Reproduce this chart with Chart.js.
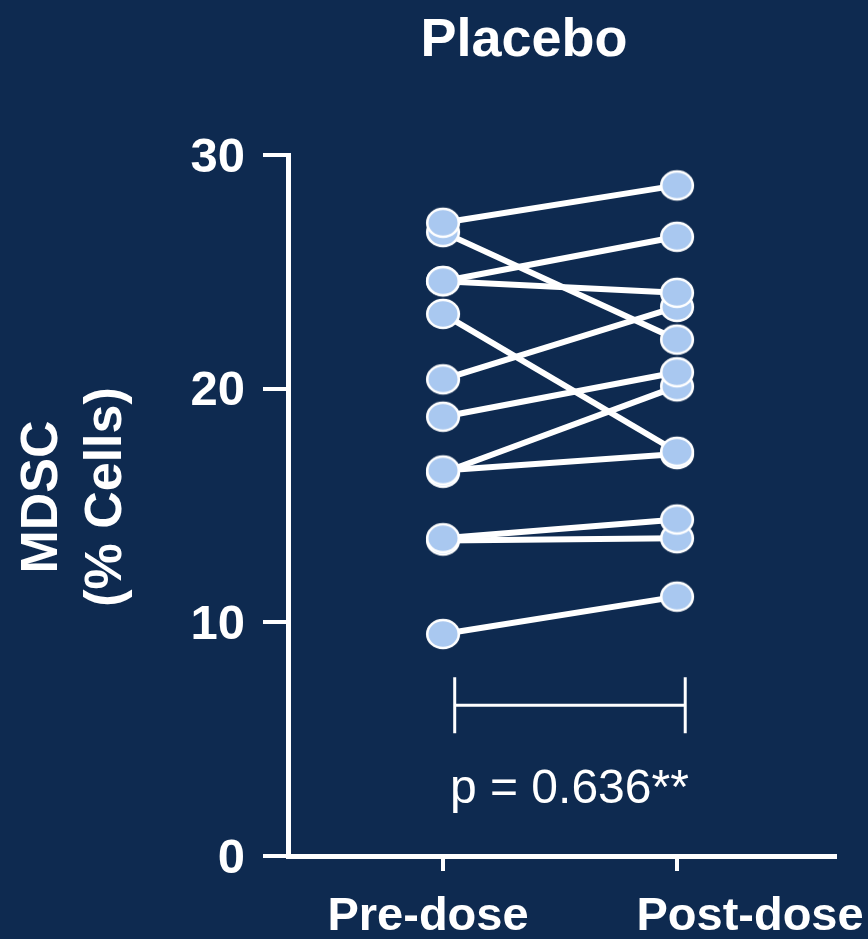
<!DOCTYPE html>
<html>
<head>
<meta charset="utf-8">
<script src="https://cdn.jsdelivr.net/npm/chart.js@4.4.1/dist/chart.umd.min.js"></script>
<style>
  html, body { margin: 0; padding: 0; background: #0e2a50; }
  #wrap { width: 868px; height: 939px; position: relative; }
</style>
</head>
<body>
<div id="wrap"><canvas id="mdscChart"></canvas></div>
<script>
// Data
const chartTitle = 'Placebo';
const yTitle = ['MDSC', '(% Cells)'];
const categories = ['Pre-dose', 'Post-dose'];
const preDose = [27.1, 26.7, 24.6, 24.6, 23.2, 20.4, 18.8, 16.5, 16.4, 13.6, 13.5, 9.5];
const postDose = [28.7, 22.1, 26.5, 24.1, 17.3, 23.5, 20.7, 17.2, 20.1, 14.4, 13.6, 11.1];
const yTicks = [0, 10, 20, 30];
const pText = 'p = 0.636**';

const white = '#ffffff';
const pointFill = '#a9c8f0';
const bg = '#0e2a50';
const font = '"Liberation Sans", Arial, sans-serif';

// slightly flattened dot, like the original
function makeDot() {
  const cv = document.createElement('canvas');
  cv.width = 38; cv.height = 34;
  const c = cv.getContext('2d');
  c.beginPath();
  c.ellipse(19, 17, 15.8, 14, 0, 0, Math.PI * 2);
  c.fillStyle = pointFill;
  c.fill();
  c.lineWidth = 2.6;
  c.strokeStyle = white;
  c.stroke();
  return cv;
}
const dotImg = makeDot();

// one line per subject
const lineSets = preDose.map((v, i) => ({
  type: 'line',
  data: [{ x: 0, y: v }, { x: 1, y: postDose[i] }],
  borderColor: white,
  borderWidth: 6,
  pointRadius: 0,
  order: 2
}));

// all the dots go on top of the lines
const dots = [];
for (let i = preDose.length - 1; i >= 0; i--) dots.push({ x: 0, y: preDose[i] });
for (let i = postDose.length - 1; i >= 0; i--) dots.push({ x: 1, y: postDose[i] });

// background, bracket + p value, title, axis titles
const extras = {
  id: 'extras',
  beforeDraw(chart) {
    const c = chart.ctx;
    c.save();
    c.fillStyle = bg;
    c.fillRect(0, 0, chart.width, chart.height);
    c.restore();
  },
  afterDraw(chart) {
    const c = chart.ctx;
    const xs = chart.scales.x, ys = chart.scales.y;
    c.save();
    c.strokeStyle = white;
    c.lineWidth = 3;
    const x0 = xs.getPixelForValue(0.05), x1 = xs.getPixelForValue(1.035);
    const yMid = ys.getPixelForValue(6.45);
    const yTop = ys.getPixelForValue(7.65), yBot = ys.getPixelForValue(5.25);
    c.beginPath();
    c.moveTo(x0, yTop); c.lineTo(x0, yBot);
    c.moveTo(x1, yTop); c.lineTo(x1, yBot);
    c.moveTo(x0, yMid); c.lineTo(x1, yMid);
    c.stroke();

    c.fillStyle = white;
    c.textAlign = 'center';
    c.textBaseline = 'alphabetic';
    c.font = '48px ' + font;
    c.fillText(pText, xs.getPixelForValue(0.54), ys.getPixelForValue(2.27));

    c.font = 'bold 54px ' + font;
    c.fillText(chartTitle, 524, 56);

    // category labels sit a bit off the ticks in the original
    c.font = 'bold 47px ' + font;
    c.fillText(categories[0], xs.getPixelForValue(0) - 15, 930);
    c.fillText(categories[1], xs.getPixelForValue(1) + 73, 930);

    // y title
    c.translate(0, 497);
    c.rotate(-Math.PI / 2);
    c.textBaseline = 'middle';
    c.font = 'bold 52px ' + font;
    c.fillText(yTitle[0], 0, 43);
    c.fillText(yTitle[1], 0, 107);
    c.restore();
  }
};

const ctx = document.getElementById('mdscChart').getContext('2d');
const mdscChart = new Chart(ctx, {
  type: 'scatter',
  data: {
    datasets: [
      {
        type: 'scatter',
        data: dots,
        pointStyle: dotImg,
        pointRadius: 17,
        pointHoverRadius: 17,
        order: 1
      },
      ...lineSets
    ]
  },
  options: {
    responsive: true,
    maintainAspectRatio: false,
    animation: false,
    layout: { padding: { top: 155, right: 33, left: 0, bottom: 0 } },
    plugins: { legend: { display: false }, tooltip: { enabled: false } },
    scales: {
      x: {
        type: 'linear',
        min: -0.6624,
        max: 1.675,
        afterBuildTicks: (scale) => { scale.ticks = categories.map((c, i) => ({ value: i })); },
        afterFit: (scale) => { scale.height = 83; },
        border: { color: white, width: 5 },
        grid: { drawOnChartArea: false, color: white, lineWidth: 4, tickLength: 15 },
        ticks: { display: false }
      },
      y: {
        min: 0,
        max: 30,
        afterBuildTicks: (scale) => { scale.ticks = yTicks.map(v => ({ value: v })); },
        afterFit: (scale) => { scale.width = 288; },
        border: { color: white, width: 5 },
        grid: { drawOnChartArea: false, color: white, lineWidth: 4, tickLength: 25 },
        ticks: {
          color: white,
          padding: 18,
          labelOffset: 3,
          font: { family: font, size: 49, weight: 'bold' }
        }
      }
    }
  },
  plugins: [extras]
});
</script>
</body>
</html>
